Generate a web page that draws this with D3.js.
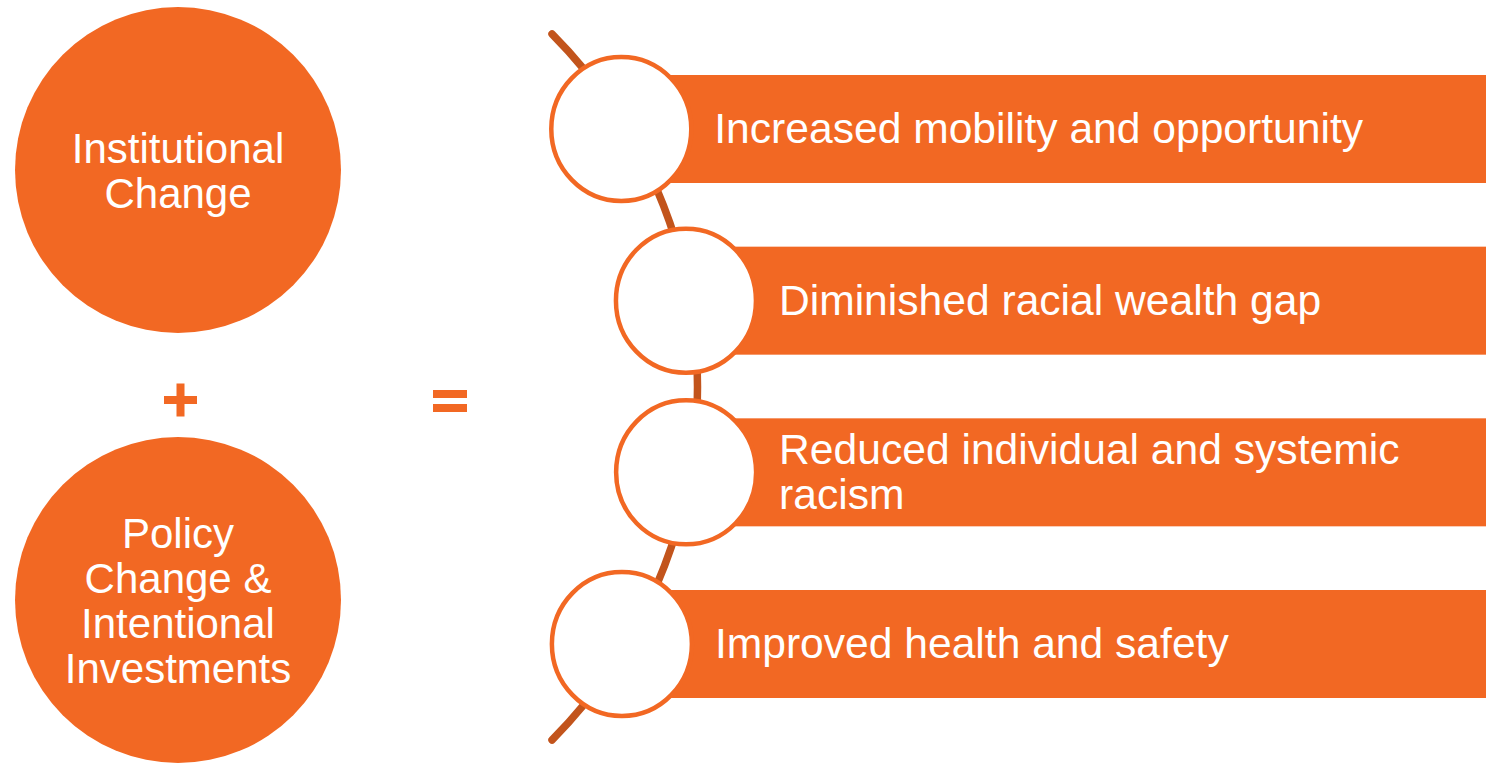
<!DOCTYPE html>
<html>
<head>
<meta charset="utf-8">
<script src="https://cdn.jsdelivr.net/npm/d3@7"></script>
<style>
  html, body { margin: 0; padding: 0; background: #ffffff; }
  svg { display: block; }
  text { font-family: "Liberation Sans", Arial, sans-serif; }
</style>
</head>
<body>
<svg id="chart" width="1486" height="764"></svg>
<script>
// ---- data ----
const inputs = [
  ["Institutional", "Change"],
  ["Policy", "Change &", "Intentional", "Investments"]
];
const operators = ["+", "="];
const outcomes = [
  ["Increased mobility and opportunity"],
  ["Diminished racial wealth gap"],
  ["Reduced individual and systemic", "racism"],
  ["Improved health and safety"]
];

// ---- styles ----
const ORANGE = "#F26823";
const DARK = "#C2541C";
const W = 1486, H = 764;
const FONT_IN = 42, FONT_OUT = 42.6, LINE = 45;

const svg = d3.select("#chart");

// scales
const yIn = d3.scalePoint().domain(d3.range(inputs.length)).range([170, 600]);
const yOut = d3.scalePoint().domain(d3.range(outcomes.length)).range([129, 644]);

// arc geometry (large circle to the left)
const arcC = { x: 196.5, y: 387 };
const arcR = 501, nodeR = 497;
const nodeX = y => arcC.x + Math.sqrt(nodeR * nodeR - (y - arcC.y) * (y - arcC.y));

// input circles
const gIn = svg.append("g");
gIn.selectAll("circle").data(inputs).join("circle")
  .attr("cx", 178).attr("cy", (d, i) => yIn(i)).attr("r", 163)
  .attr("fill", ORANGE);
gIn.selectAll("text").data(inputs).join("text")
  .attr("text-anchor", "middle").attr("fill", "#fff").attr("font-size", FONT_IN)
  .each(function(lines, i) {
    const cy = yIn(i);
    d3.select(this).selectAll("tspan").data(lines).join("tspan")
      .attr("x", 178)
      .attr("y", (l, j) => cy + 15 + (j - (lines.length - 1) / 2) * LINE)
      .text(l => l);
  });

// operators (plus and equals shapes)
const plusC = { x: 180.5, y: 400 };
const eqC = { x: 450, y: 401 };
svg.append("path")
  .attr("d", `M${plusC.x - 16.5},${plusC.y - 4}h12.5v-12.5h8v12.5h12.5v8h-12.5v12.5h-8v-12.5h-12.5z`)
  .attr("fill", ORANGE).attr("aria-label", operators[0]);
svg.append("path")
  .attr("d", `M${eqC.x - 17},${eqC.y - 11}h34v8h-34z M${eqC.x - 17},${eqC.y + 3}h34v8h-34z`)
  .attr("fill", ORANGE).attr("aria-label", operators[1]);

// arc line
const y0 = 34, y1 = 740;
const ax = y => arcC.x + Math.sqrt(arcR * arcR - (y - arcC.y) * (y - arcC.y));
svg.append("path")
  .attr("d", `M${ax(y0)},${y0} A${arcR},${arcR} 0 0 1 ${ax(y1)},${y1}`)
  .attr("fill", "none").attr("stroke", DARK).attr("stroke-width", 7.5)
  .attr("stroke-linecap", "round");

// outcome bars, nodes, text
const gOut = svg.append("g");
const rows = gOut.selectAll("g").data(outcomes).join("g");
rows.append("rect")
  .attr("x", (d, i) => nodeX(yOut(i)))
  .attr("y", (d, i) => yOut(i) - 54)
  .attr("width", (d, i) => W - nodeX(yOut(i)))
  .attr("height", 108)
  .attr("fill", ORANGE);
rows.append("ellipse")
  .attr("cx", (d, i) => nodeX(yOut(i)))
  .attr("cy", (d, i) => yOut(i))
  .attr("rx", 70).attr("ry", 72)
  .attr("fill", "#fff").attr("stroke", ORANGE).attr("stroke-width", 4.5);
rows.append("text")
  .attr("fill", "#fff").attr("font-size", FONT_OUT)
  .each(function(lines, i) {
    const cy = yOut(i), x = nodeX(cy) + 93;
    d3.select(this).selectAll("tspan").data(lines).join("tspan")
      .attr("x", x)
      .attr("y", (l, j) => cy + 14 + (j - (lines.length - 1) / 2) * LINE)
      .text(l => l);
  });
</script>
</body>
</html>
